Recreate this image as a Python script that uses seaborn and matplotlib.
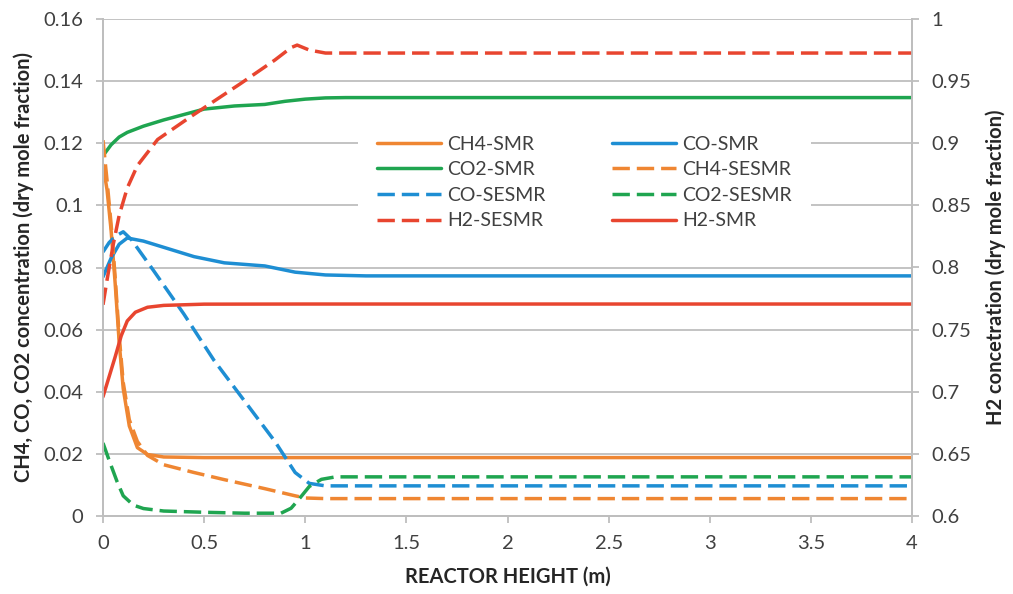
import matplotlib
matplotlib.use("Agg")
import matplotlib.pyplot as plt
import matplotlib.ticker as mticker
import seaborn as sns
import pandas as pd

# ---- data ----
ch4_smr_x = [0, 0.02, 0.04, 0.06, 0.08, 0.1, 0.13, 0.17, 0.22, 0.3, 0.5, 1.0, 2.0, 4.0]
ch4_smr_y = [0.113, 0.105, 0.092, 0.075, 0.056, 0.041, 0.029, 0.022, 0.0198, 0.019, 0.0188, 0.0188, 0.0188, 0.0188]

ch4_sesmr_x = [0, 0.02, 0.04, 0.06, 0.08, 0.1, 0.13, 0.17, 0.22, 0.3, 0.45, 0.6, 0.8, 0.95, 1.0, 1.1, 2.0, 4.0]
ch4_sesmr_y = [0.121, 0.108, 0.094, 0.077, 0.058, 0.043, 0.031, 0.024, 0.0195, 0.0165, 0.014, 0.0117, 0.0088, 0.0065, 0.0058, 0.0056, 0.0056, 0.0056]

co_smr_x = [0, 0.04, 0.08, 0.12, 0.2, 0.3, 0.45, 0.6, 0.8, 0.95, 1.1, 1.3, 2.0, 4.0]
co_smr_y = [0.077, 0.083, 0.0875, 0.0895, 0.0885, 0.0865, 0.0835, 0.0815, 0.0805, 0.0785, 0.0776, 0.0773, 0.0773, 0.0773]

co_sesmr_x = [0, 0.03, 0.06, 0.1, 0.14, 0.25, 0.4, 0.55, 0.7, 0.85, 0.95, 1.02, 1.1, 2.0, 4.0]
co_sesmr_y = [0.085, 0.088, 0.090, 0.0915, 0.089, 0.079, 0.065, 0.050, 0.037, 0.024, 0.014, 0.0105, 0.0097, 0.0097, 0.0097]

co2_smr_x = [0, 0.04, 0.08, 0.12, 0.2, 0.3, 0.5, 0.65, 0.8, 0.9, 1.0, 1.1, 1.2, 2.0, 4.0]
co2_smr_y = [0.116, 0.1195, 0.122, 0.1235, 0.1255, 0.1275, 0.131, 0.132, 0.1325, 0.1335, 0.1342, 0.1346, 0.1347, 0.1347, 0.1347]

co2_sesmr_x = [0, 0.03, 0.07, 0.1, 0.15, 0.2, 0.3, 0.5, 0.7, 0.88, 0.93, 0.97, 1.02, 1.08, 1.15, 2.0, 4.0]
co2_sesmr_y = [0.0235, 0.018, 0.011, 0.0065, 0.0035, 0.0024, 0.0016, 0.0012, 0.0009, 0.0009, 0.0025, 0.0055, 0.0095, 0.0118, 0.0126, 0.0126, 0.0126]

h2_smr_x = [0, 0.03, 0.06, 0.09, 0.12, 0.16, 0.22, 0.3, 0.5, 1.0, 2.0, 4.0]
h2_smr_y = [0.696, 0.712, 0.728, 0.745, 0.757, 0.764, 0.768, 0.7695, 0.7705, 0.7706, 0.7706, 0.7706]

h2_sesmr_x = [0, 0.02, 0.05, 0.08, 0.12, 0.17, 0.27, 0.43, 0.68, 0.85, 0.93, 0.96, 1.02, 1.1, 2.0, 4.0]
h2_sesmr_y = [0.770, 0.790, 0.818, 0.842, 0.864, 0.882, 0.903, 0.921, 0.948, 0.967, 0.977, 0.979, 0.975, 0.9726, 0.9726, 0.9726]

ORANGE = "#EF8632"
BLUE = "#1E8ED3"
GREEN = "#1FA550"
RED = "#E8452F"
DASH = (0, (5, 2))

sns.set_theme(style="white")
plt.rcParams["font.family"] = ["Lato", "DejaVu Sans"]

fig = plt.figure(figsize=(10.13, 5.94), dpi=100)
ax = fig.add_axes([103 / 1013, 1 - 516 / 594, (912 - 103) / 1013, (516 - 19) / 594])
ax2 = ax.twinx()

def draw(a, xs, ys, color, ls, label):
    df = pd.DataFrame({"x": xs, "y": ys})
    sns.lineplot(data=df, x="x", y="y", ax=a, color=color, linewidth=2.5,
                 linestyle=ls, label=label, estimator=None, sort=False, legend=False)

draw(ax, ch4_smr_x, ch4_smr_y, ORANGE, "-", "CH4-SMR")
draw(ax, co_smr_x, co_smr_y, BLUE, "-", "CO-SMR")
draw(ax, co2_smr_x, co2_smr_y, GREEN, "-", "CO2-SMR")
draw(ax, ch4_sesmr_x, ch4_sesmr_y, ORANGE, DASH, "CH4-SESMR")
draw(ax, co_sesmr_x, co_sesmr_y, BLUE, DASH, "CO-SESMR")
draw(ax, co2_sesmr_x, co2_sesmr_y, GREEN, DASH, "CO2-SESMR")
draw(ax2, h2_sesmr_x, h2_sesmr_y, RED, DASH, "H2-SESMR")
draw(ax2, h2_smr_x, h2_smr_y, RED, "-", "H2-SMR")

ax.set_xlim(0, 4)
ax.set_ylim(0, 0.16)
ax2.set_ylim(0.6, 1.0)
ax.xaxis.set_major_locator(mticker.MultipleLocator(0.5))
ax.yaxis.set_major_locator(mticker.MultipleLocator(0.02))
ax2.yaxis.set_major_locator(mticker.MultipleLocator(0.05))
fmt = mticker.FuncFormatter(lambda v, p: f"{v:.2f}".rstrip("0").rstrip(".") if v != 0 else "0")
ax.xaxis.set_major_formatter(fmt)
ax.yaxis.set_major_formatter(fmt)
ax2.yaxis.set_major_formatter(fmt)

GRID = "#BEBEBE"
ax.grid(axis="y", color=GRID, linewidth=1.3)
ax.grid(axis="x", visible=False)
ax2.grid(False)
for a in (ax, ax2):
    for s in a.spines.values():
        s.set_color(GRID)
        s.set_linewidth(1.3)
    a.spines["top"].set_visible(False)
TICKFS = 14.5
ax.tick_params(axis="both", which="major", length=5, width=1.3, color=GRID,
               labelsize=TICKFS, labelcolor="#404040", direction="out")
ax.tick_params(axis="x", bottom=True, pad=9)
ax.tick_params(axis="y", left=True, pad=9)
ax2.tick_params(axis="y", right=True, length=5, width=1.3, color=GRID,
                labelsize=TICKFS, labelcolor="#404040", direction="out", pad=9)

LABFS = 14.5
ax.set_xlabel("REACTOR HEIGHT (m)", fontsize=LABFS, fontweight="bold", color="#262626", labelpad=10)
ax.set_ylabel("CH4, CO, CO2 concentration (dry mole fraction)", fontsize=LABFS,
              fontweight="bold", color="#262626", labelpad=7)
ax2.set_ylabel("H2 concetration (dry mole fraction)", fontsize=LABFS,
               fontweight="bold", color="#262626", labelpad=10)

h1, l1 = ax.get_legend_handles_labels()
h2, l2 = ax2.get_legend_handles_labels()
hd = dict(zip(l1 + l2, h1 + h2))
order = ["CH4-SMR", "CO2-SMR", "CO-SESMR", "H2-SESMR",
         "CO-SMR", "CH4-SESMR", "CO2-SESMR", "H2-SMR"]
leg = ax2.legend([hd[k] for k in order], order, ncol=2, loc="center",
                 bbox_to_anchor=(0.595, 0.671), frameon=True, fontsize=14,
                 handlelength=3.3, handletextpad=0.3, columnspacing=3.4,
                 labelspacing=0.44, borderpad=1.0, fancybox=False)
leg.get_frame().set_facecolor("white")
leg.get_frame().set_edgecolor("none")
leg.get_frame().set_alpha(1)
for t in leg.get_texts():
    t.set_color("#404040")

fig.savefig("out.png", dpi=100)
